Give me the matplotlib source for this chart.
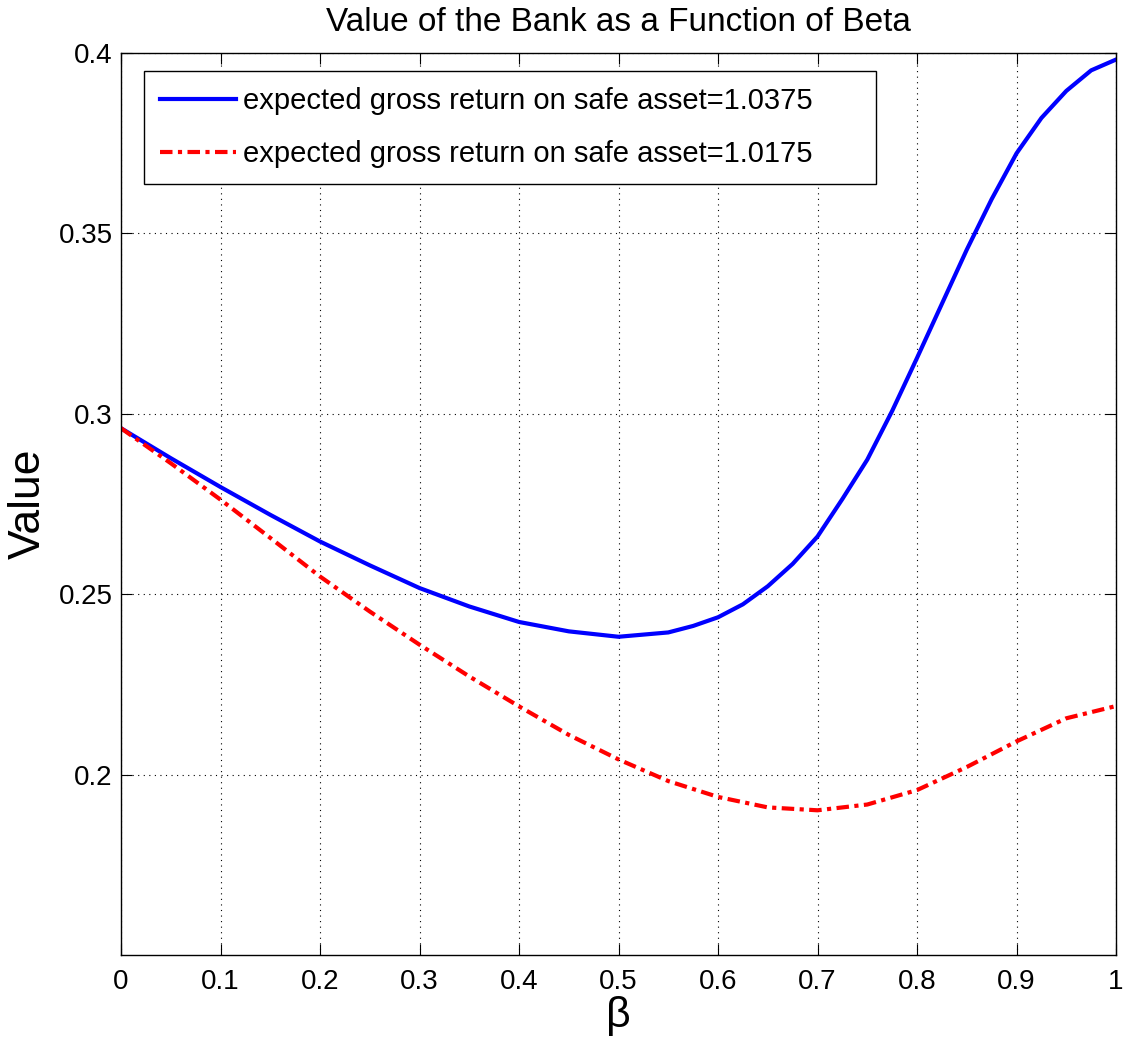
import matplotlib
matplotlib.use("Agg")
import matplotlib.pyplot as plt

# values
beta_high = [0.0, 0.05, 0.1, 0.15, 0.2, 0.25, 0.3, 0.35, 0.4, 0.45, 0.5, 0.55, 0.575,
             0.6, 0.625, 0.65, 0.675, 0.7, 0.725, 0.75, 0.775, 0.8, 0.825, 0.85,
             0.875, 0.9, 0.925, 0.95, 0.975, 1.0]
value_high = [0.2960, 0.2877, 0.2797, 0.2720, 0.2646, 0.2580, 0.2517, 0.2466, 0.2423, 0.2397,
              0.2382, 0.2394, 0.2412, 0.2436, 0.2472, 0.2522, 0.2584, 0.2660, 0.2764,
              0.2873, 0.3008, 0.3155, 0.3305, 0.3455, 0.3595, 0.3722, 0.3820, 0.3895,
              0.3952, 0.3982]
beta_low = [0.0, 0.05, 0.1, 0.15, 0.2, 0.25, 0.3, 0.35, 0.4, 0.45, 0.5,
            0.55, 0.6, 0.65, 0.7, 0.75, 0.8, 0.85, 0.9, 0.95, 1.0]
value_low = [0.2960, 0.2863, 0.2762, 0.2656, 0.2549, 0.2452, 0.2360, 0.2272, 0.2189, 0.2110,
             0.2042, 0.1982, 0.1938, 0.1909, 0.1901, 0.1917, 0.1957, 0.2021, 0.2092,
             0.2156, 0.2190]
labels = ["expected gross return on safe asset=1.0375",
          "expected gross return on safe asset=1.0175"]
xticks = [0, 0.1, 0.2, 0.3, 0.4, 0.5, 0.6, 0.7, 0.8, 0.9, 1]
xticklabels = ["0", "0.1", "0.2", "0.3", "0.4", "0.5", "0.6", "0.7", "0.8", "0.9", "1"]
yticks = [0.2, 0.25, 0.3, 0.35, 0.4]
yticklabels = ["0.2", "0.25", "0.3", "0.35", "0.4"]

plt.rcParams["font.family"] = ["Liberation Sans", "DejaVu Sans"]

fig = plt.figure(figsize=(11.28, 10.38), dpi=100)
ax = fig.add_axes([0.1073, 0.0800, 0.8821, 0.8689])

ax.plot(beta_high, value_high, color="#0000ff", lw=3.0, label=labels[0])
ax.plot(beta_low, value_low, color="#ff0000", lw=3.0, ls=(0, (3, 1.3, 1, 1.3)),
        label=labels[1])

ax.set_xlim(0, 1)
ax.set_ylim(0.15, 0.4)
ax.set_xticks(xticks)
ax.set_xticklabels(xticklabels, fontsize=20)
ax.set_yticks(yticks)
ax.set_yticklabels(yticklabels, fontsize=20)
ax.tick_params(direction="in", top=True, right=True, length=8, width=0.8)
ax.tick_params(axis="y", pad=6)
ax.tick_params(axis="x", pad=10)
ax.grid(True, color="black", ls=(0, (1, 4)), lw=0.8)
for s in ax.spines.values():
    s.set_linewidth(1.0)

ax.set_title("Value of the Bank as a Function of Beta", fontsize=24, pad=16)
ax.set_xlabel("β", fontsize=31, labelpad=1)
ax.set_ylabel("Value", fontsize=32, labelpad=7)

leg = ax.legend(loc="upper left", bbox_to_anchor=(0.0231, 0.0, 0.7357, 0.980),
                mode="expand", borderaxespad=0, fontsize=21, frameon=True,
                fancybox=False, edgecolor="black", framealpha=1, handlelength=2.6,
                handletextpad=0.25, borderpad=0.55, labelspacing=0.85)
leg.get_frame().set_linewidth(1.0)

fig.savefig("out.png", dpi=100)
